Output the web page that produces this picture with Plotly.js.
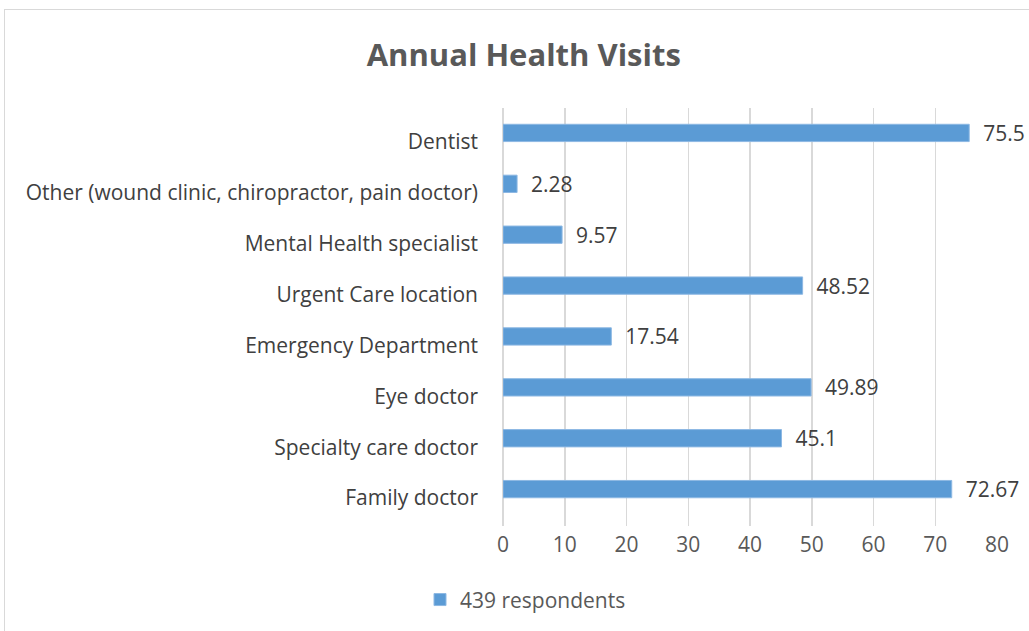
<!DOCTYPE html>
<html>
<head>
<meta charset="utf-8">
<script src="https://cdn.plot.ly/plotly-3.0.1.min.js"></script>
<style>
html,body{margin:0;padding:0;background:#fff;}
#chart{width:1029px;height:631px;}
#frame{position:absolute;left:4px;top:9px;width:1040px;height:640px;border:1px solid #d9d9d9;pointer-events:none;}
</style>
</head>
<body>
<div id="chart"></div>
<div id="frame"></div>
<script>
const categories = ["Family doctor","Specialty care doctor","Eye doctor","Emergency Department","Urgent Care location","Mental Health specialist","Other (wound clinic, chiropractor, pain doctor)","Dentist"];
const values = [72.67, 45.1, 49.89, 17.54, 48.52, 9.57, 2.28, 75.5];
const seriesName = "439 respondents";
const xTicks = [0,10,20,30,40,50,60,70,80];

const font = "Open Sans, Lato, sans-serif";
const trace = {
  type: 'bar', orientation: 'h',
  y: categories, x: values, name: seriesName,
  width: 0.34,
  marker: {color: '#5b9bd5', line: {color: '#8db8e3', width: 1}},
  text: values.map(v => String(v)),
  texttemplate: '  %{text}',
  textposition: 'outside',
  constraintext: 'none',
  textfont: {family: font, size: 21, color: '#404040'},
  cliponaxis: false,
  hoverinfo: 'none'
};
const layout = {
  width: 1029, height: 631,
  margin: {l: 503, r: 32, t: 108, b: 104},
  paper_bgcolor: '#fff', plot_bgcolor: '#fff',
  title: {text: '<b>Annual Health Visits</b>', x: 0.509, xanchor: 'center', y: 0.913, yanchor: 'middle',
          font: {family: font, size: 31, color: '#595959'}},
  xaxis: {range: [0, 80], tickvals: xTicks, ticktext: xTicks.map(String), showgrid: true, gridcolor: '#d9d9d9', gridwidth: 1.5,
          zeroline: true, zerolinecolor: '#d9d9d9', zerolinewidth: 1.5, showline: false, ticks: '',
          tickfont: {family: font, size: 21, color: '#595959'}, ticklabelstandoff: 4},
  yaxis: {type: 'category', categoryorder: 'array', categoryarray: categories, range: [-0.725, 7.49],
          showgrid: false, zeroline: false, showline: false, ticks: '', ticklabelshift: 9,
          tickfont: {family: font, size: 21, color: '#404040'}, ticklabelstandoff: 24},
  showlegend: true,
  legend: {orientation: 'h', x: -0.168, xanchor: 'left', y: -0.174, yanchor: 'middle',
           font: {family: font, size: 21, color: '#595959'}},
  bargap: 0.5
};
Plotly.newPlot('chart', [trace], layout, {displayModeBar: false, staticPlot: true});
</script>
</body>
</html>
